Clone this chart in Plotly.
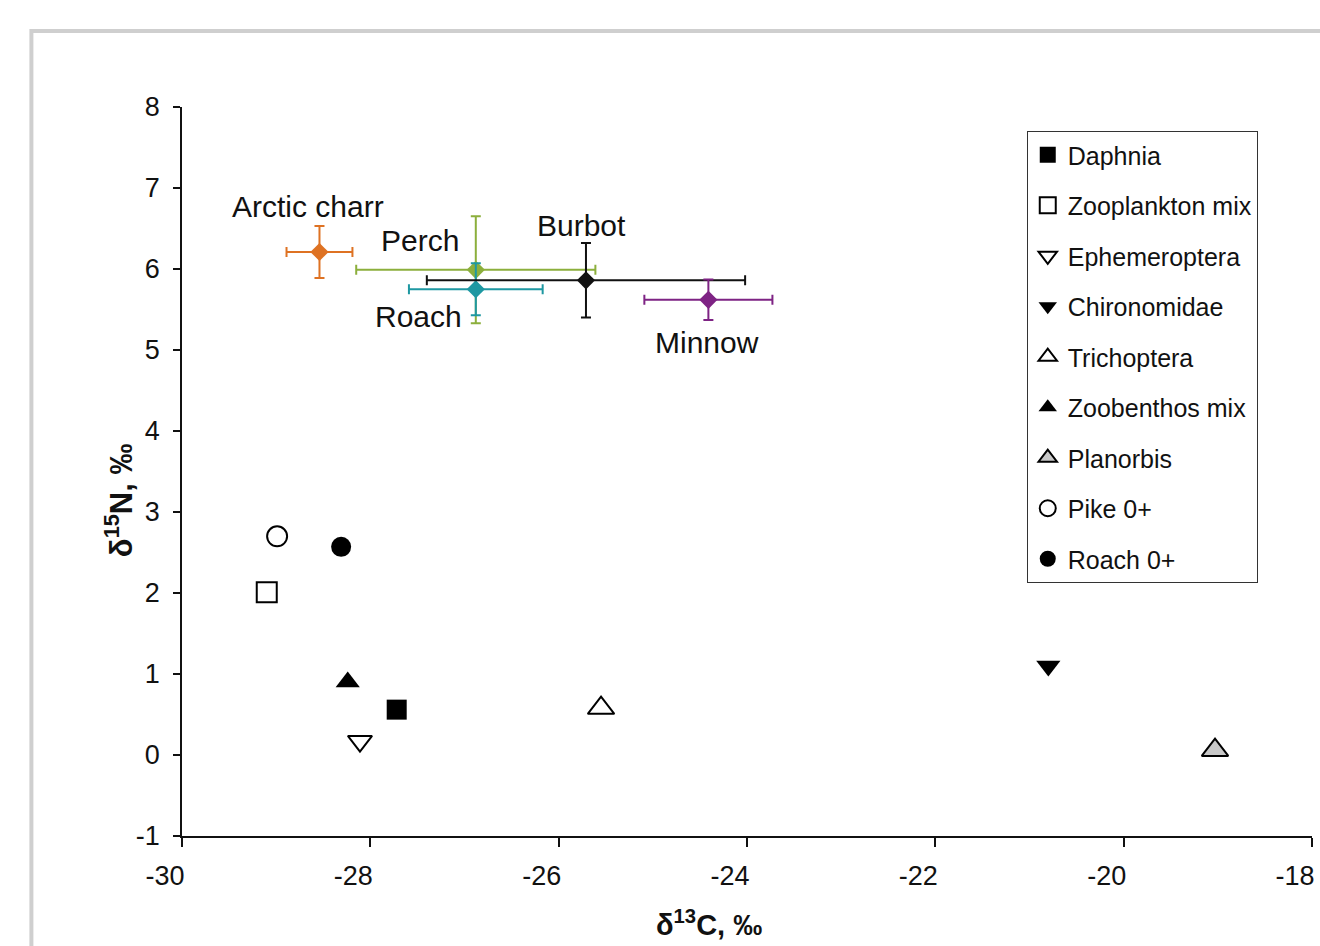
import plotly.graph_objects as go

# Fish species (mean ± SD)
fish_names = ["Arctic charr", "Perch", "Roach", "Burbot", "Minnow"]
fish_c13 = [-28.54, -26.88, -26.88, -25.71, -24.41]
fish_c13_sd = [0.35, 1.27, 0.71, 1.69, 0.68]
fish_n15 = [6.21, 5.99, 5.75, 5.86, 5.62]
fish_n15_sd = [0.32, 0.66, 0.32, 0.46, 0.25]
fish_colors = ["#DE7223", "#8CAF3C", "#1E98A2", "#111111", "#7E2384"]
# label offsets in pixels (dx, dy up)
fish_label_dx = [-11, -56, -57, -4, -1]
fish_label_dy = [45, 29, -27, 55, -43]

# Prey items
prey_names = ["Daphnia", "Zooplankton mix", "Ephemeroptera", "Chironomidae",
              "Trichoptera", "Zoobenthos mix", "Planorbis", "Pike 0+", "Roach 0+"]
prey_c13 = [-27.72, -29.10, -28.11, -20.80, -25.55, -28.24, -19.03, -28.99, -28.31]
prey_n15 = [0.56, 2.01, 0.17, 1.10, 0.58, 0.90, 0.06, 2.70, 2.57]
prey_symbols = ["square", "square-open", "triangle-down-open", "triangle-down",
                "triangle-up-open", "triangle-up", "triangle-up", "circle-open", "circle"]
prey_fill = ["#000000", "#000000", "#000000", "#000000", "#000000", "#000000",
             "#C8C8C8", "#000000", "#000000"]
prey_sizes = [20, 20, 21, 21, 23, 21, 23, 20, 20]

x_ticks = [-30, -28, -26, -24, -22, -20, -18]
y_ticks = [-1, 0, 1, 2, 3, 4, 5, 6, 7, 8]

FONT = "Liberation Sans, Arial, sans-serif"

fig = go.Figure()

for i, name in enumerate(fish_names):
    fig.add_trace(go.Scatter(
        x=[fish_c13[i]], y=[fish_n15[i]], mode="markers", name=name,
        showlegend=False,
        marker=dict(symbol="diamond", size=14, color=fish_colors[i]),
        error_x=dict(type="data", array=[fish_c13_sd[i]], color=fish_colors[i],
                     thickness=2, width=5),
        error_y=dict(type="data", array=[fish_n15_sd[i]], color=fish_colors[i],
                     thickness=2, width=5),
    ))
    fig.add_annotation(x=fish_c13[i], y=fish_n15[i], text=name, showarrow=False,
                       xshift=fish_label_dx[i], yshift=fish_label_dy[i],
                       font=dict(family=FONT, size=30, color="#111111"))

for i, name in enumerate(prey_names):
    sym = prey_symbols[i]
    if sym.endswith("-open"):
        marker = dict(symbol=sym, size=prey_sizes[i], color="#000000",
                      line=dict(width=2, color="#000000"))
    else:
        marker = dict(symbol=sym, size=prey_sizes[i], color=prey_fill[i],
                      line=dict(width=2 if prey_fill[i] != "#000000" else 0,
                                color="#000000"))
    fig.add_trace(go.Scatter(
        x=[prey_c13[i]], y=[prey_n15[i]], mode="markers", name=name,
        legendgroup=name, marker=marker,
    ))

L, R, T, B = 182, 5, 107, 110
W, H = 1320, 946
pw, ph = W - L - R, H - T - B

def px_x(p):
    return (p - L) / pw

def px_y(p):
    return (H - B - p) / ph

fig.add_shape(type="rect", xref="paper", yref="paper",
              x0=px_x(31), x1=px_x(1340), y0=px_y(31), y1=px_y(980),
              line=dict(color="#CFCFCF", width=4), fillcolor="rgba(0,0,0,0)",
              layer="below")

# axis titles
fig.add_annotation(xref="paper", yref="paper", x=px_x(710), y=px_y(923),
                   text="<b>δ<sup>13</sup>C, ‰</b>", showarrow=False,
                   xanchor="center", yanchor="middle",
                   font=dict(family=FONT, size=29, color="#111111"))
fig.add_annotation(xref="paper", yref="paper", x=px_x(119), y=px_y(500),
                   text="<b>δ<sup>15</sup>N, ‰</b>", showarrow=False, textangle=-90,
                   xanchor="center", yanchor="middle",
                   font=dict(family=FONT, size=31, color="#111111"))

fig.update_layout(
    width=W, height=H,
    margin=dict(l=L, r=R, t=T, b=B),
    paper_bgcolor="white", plot_bgcolor="white",
    font=dict(family=FONT, color="#111111"),
    showlegend=True,
    legend=dict(x=px_x(1029), y=px_y(131), xanchor="left", yanchor="top",
                bordercolor="#333333", borderwidth=1, bgcolor="white",
                font=dict(family=FONT, size=25, color="#111111"),
                tracegroupgap=15, itemsizing="trace"),
    xaxis=dict(range=[-30, -18], tickvals=x_ticks, ticktext=[str(v) for v in x_ticks],
               showgrid=False, zeroline=False, showline=True, linecolor="#111111",
               linewidth=1.5, ticks="outside", ticklen=9, tickwidth=1.5,
               tickcolor="#111111", tickfont=dict(family=FONT, size=27, color="#111111"),
               ticklabelstandoff=6, ticklabelshift=-17, ticklabeloverflow="allow"),
    yaxis=dict(range=[-1, 8], tickvals=y_ticks, ticktext=[str(v) for v in y_ticks],
               showgrid=False, zeroline=False, showline=True, linecolor="#111111",
               linewidth=1.5, ticks="outside", ticklen=7, tickwidth=1.5,
               tickcolor="#111111", tickfont=dict(family=FONT, size=27, color="#111111"),
               ticklabelstandoff=8),
)

fig.write_html("out.html")
